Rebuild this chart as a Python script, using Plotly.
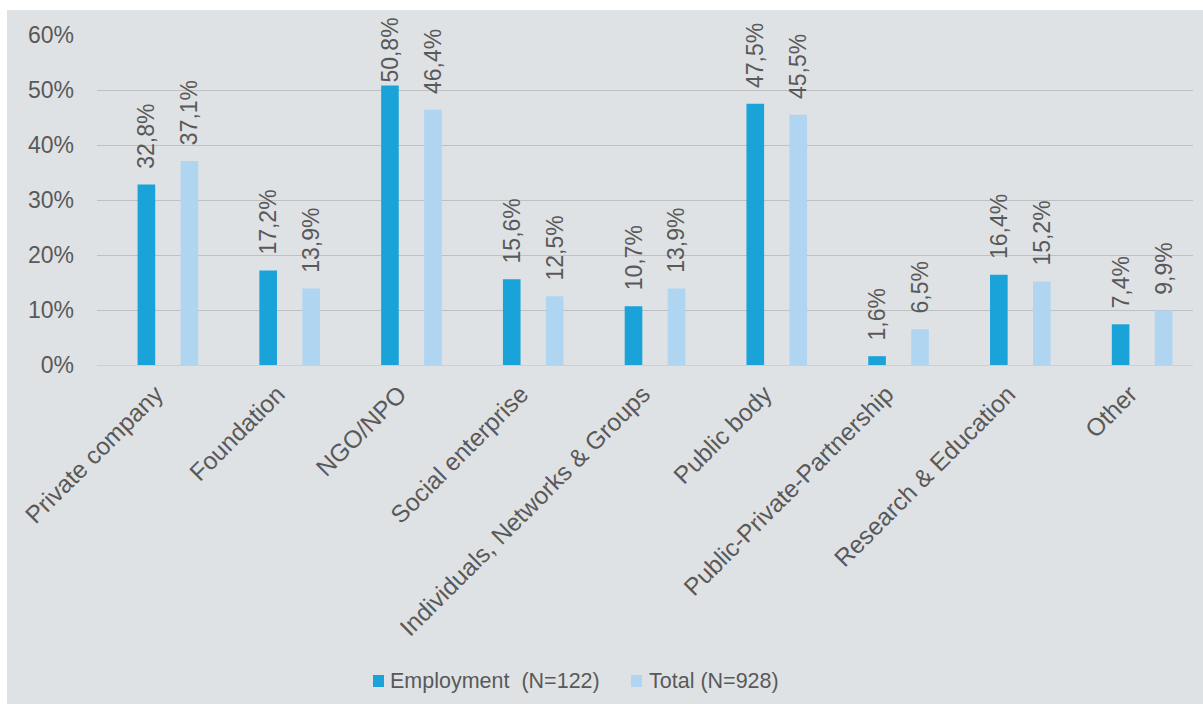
import plotly.graph_objects as go

# Share of projects by organisation type (percent)
categories = [
    "Private company", "Foundation", "NGO/NPO", "Social enterprise",
    "Individuals, Networks & Groups", "Public body",
    "Public-Private-Partnership", "Research & Education", "Other",
]
employment = [32.8, 17.2, 50.8, 15.6, 10.7, 47.5, 1.6, 16.4, 7.4]
total = [37.1, 13.9, 46.4, 12.5, 13.9, 45.5, 6.5, 15.2, 9.9]
series_names = ["Employment\u00a0\u00a0(N=122)", "Total (N=928)"]
y_ticks = [0, 10, 20, 30, 40, 50, 60]

DARK = "#1AA3D9"
LIGHT = "#AFD5F0"
TEXT = "#595959"
BG = "#DFE2E5"
FONT = "Liberation Sans, Arial, sans-serif"

W, H = 1203, 704
L, R, T, B = 97, 10, 35, 339  # plot area 97..1193 x 35..365
pw, ph = W - L - R, H - T - B


def px_x(x):
    return (x - L) / pw


def px_y(y):
    return (T + ph - y) / ph


def fmt(v):
    # labels keep a small gap above the bar, except where they would
    # run past the top of the panel
    pad = "" if v > 50 else "\u00a0\u00a0"
    return pad + f"{v:.1f}".replace(".", ",") + "%"


fig = go.Figure()
for vals, name, color in ((employment, series_names[0], DARK),
                          (total, series_names[1], LIGHT)):
    fig.add_trace(go.Bar(
        x=categories, y=vals, name=name,
        marker=dict(color=color, line=dict(width=0)),
        text=[fmt(v) for v in vals], textposition="outside",
        textangle=-90, textfont=dict(size=23, color=TEXT, family=FONT),
        constraintext="none", cliponaxis=False, showlegend=False,
    ))

# grey panel behind the whole chart (white strip at top and left)
fig.add_shape(
    type="rect", xref="paper", yref="paper", layer="below",
    x0=px_x(7), x1=px_x(W), y0=px_y(H), y1=px_y(10),
    fillcolor=BG, line=dict(width=0),
)

# legend: colour key squares with their series names
for sq_x, txt_x, color, name in ((373, 388, DARK, series_names[0]),
                                 (631, 647, LIGHT, series_names[1])):
    fig.add_shape(
        type="rect", xref="paper", yref="paper",
        x0=px_x(sq_x), x1=px_x(sq_x + 11), y0=px_y(687), y1=px_y(675),
        fillcolor=color, line=dict(width=0),
    )
    fig.add_annotation(
        xref="paper", yref="paper", x=px_x(txt_x), y=px_y(681),
        xanchor="left", yanchor="middle", text=name, showarrow=False,
        font=dict(size=21.5, color=TEXT, family=FONT),
    )

shift = 10 / (pw / 9)
fig.update_layout(
    width=W, height=H,
    margin=dict(l=L, r=R, t=T, b=B, pad=0, autoexpand=False),
    paper_bgcolor="white", plot_bgcolor=BG,
    barmode="group", bargap=0.294, bargroupgap=0.59,
    font=dict(family=FONT, color=TEXT, size=22),
    showlegend=False,
    xaxis=dict(
        type="category", range=[-0.5 - shift, 8.5 - shift],
        tickangle=-45, tickfont=dict(size=24.5, color=TEXT),
        showgrid=False, showline=False, ticks="", fixedrange=True,
        automargin=False, ticklabelstandoff=9, ticklabelshift=-12,
    ),
    yaxis=dict(
        range=[0, 60], tickmode="array", tickvals=y_ticks,
        ticktext=[f"{v}%" for v in y_ticks],
        tickfont=dict(size=23, color=TEXT),
        showgrid=True, gridcolor="#BEC1C4", gridwidth=1.3,
        zeroline=True, zerolinecolor="#CDD0D3", zerolinewidth=1.3,
        showline=False, ticks="", ticklabelstandoff=22, automargin=False,
    ),
)

fig.write_html("out.html")
